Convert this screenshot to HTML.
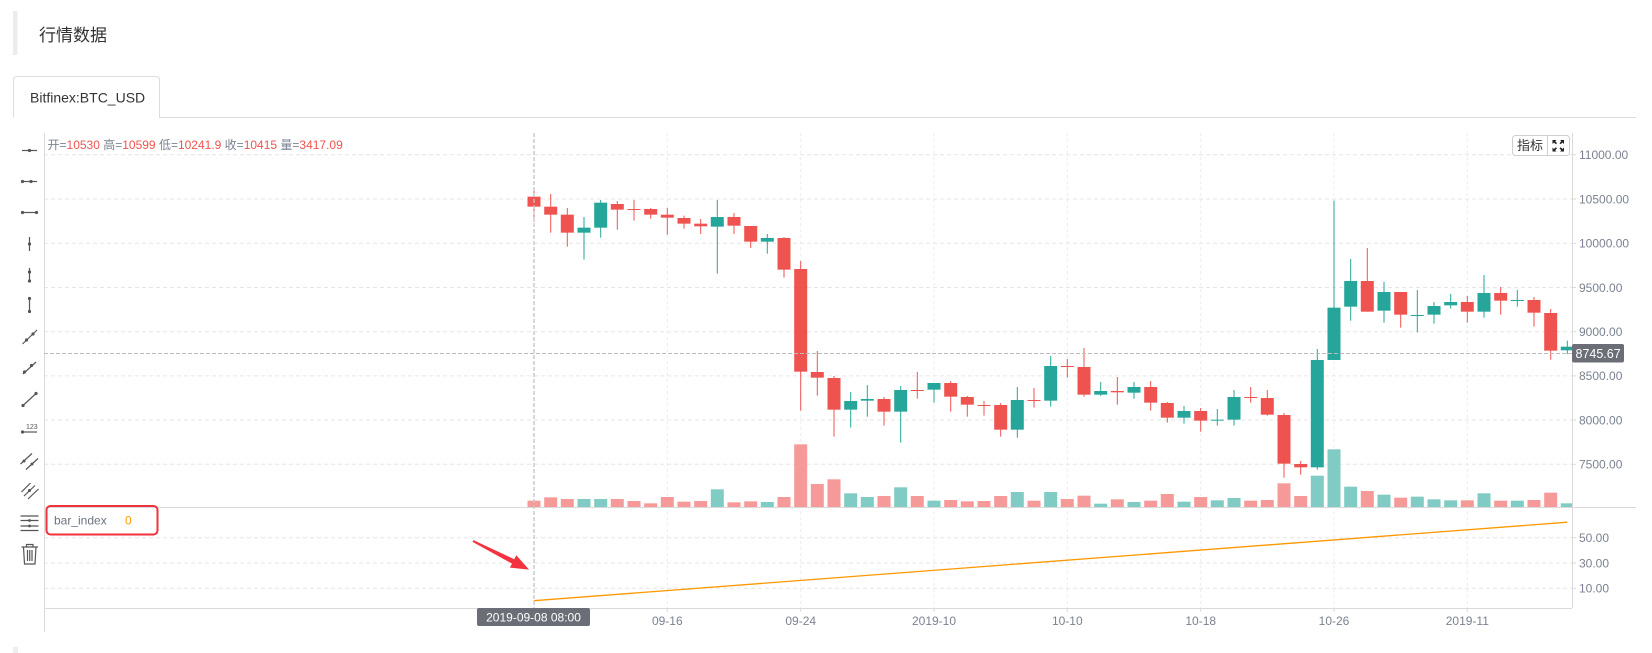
<!DOCTYPE html>
<html><head><meta charset="utf-8"><style>
html,body{margin:0;padding:0;background:#fff;}
svg{display:block;font-family:"Liberation Sans","Noto Sans CJK SC",sans-serif;}
</style></head><body>
<svg width="1652" height="653" viewBox="0 0 1652 653" xmlns="http://www.w3.org/2000/svg">
<defs><clipPath id="plot" clipPathUnits="userSpaceOnUse"><rect x="44" y="133" width="1528" height="476"/></clipPath></defs>
<rect x="13" y="11" width="4.5" height="44" fill="#ececec"/>
<text x="39" y="41" font-size="17" fill="#333" font-family="Liberation Sans,Noto Sans CJK SC,sans-serif">行情数据</text>
<path d="M13.5 117.5 V80 Q13.5 76.5 17 76.5 H156 Q159.5 76.5 159.5 80 V117.5 H1636" fill="#fff" stroke="#ddd" stroke-width="1"/>
<text x="30" y="102.5" font-size="14" fill="#333">Bitfinex:BTC_USD</text>
<rect x="13" y="647" width="5" height="6" fill="#eee"/>

<!-- grid -->
<g stroke="#e6e6e6" stroke-width="1" stroke-dasharray="4 3">
<line x1="44" y1="154.8" x2="1572" y2="154.8"/><line x1="44" y1="199" x2="1572" y2="199"/><line x1="44" y1="243.3" x2="1572" y2="243.3"/><line x1="44" y1="287.5" x2="1572" y2="287.5"/><line x1="44" y1="331.7" x2="1572" y2="331.7"/><line x1="44" y1="375.9" x2="1572" y2="375.9"/><line x1="44" y1="420" x2="1572" y2="420"/><line x1="44" y1="464.3" x2="1572" y2="464.3"/>
<line x1="44" y1="537.7" x2="1572" y2="537.7"/><line x1="44" y1="563" x2="1572" y2="563"/><line x1="44" y1="588.3" x2="1572" y2="588.3"/>
</g>
<g stroke="#ececec" stroke-width="1" stroke-dasharray="3 3">
<line x1="667.3" y1="133" x2="667.3" y2="608"/><line x1="800.7" y1="133" x2="800.7" y2="608"/><line x1="934" y1="133" x2="934" y2="608"/><line x1="1067.3" y1="133" x2="1067.3" y2="608"/><line x1="1200.7" y1="133" x2="1200.7" y2="608"/><line x1="1334" y1="133" x2="1334" y2="608"/><line x1="1467.3" y1="133" x2="1467.3" y2="608"/>
</g>

<!-- axes -->
<g stroke="#dadada" stroke-width="1">
<line x1="44.5" y1="133" x2="44.5" y2="632"/>
<line x1="1572.5" y1="133" x2="1572.5" y2="608"/>
<line x1="44" y1="507.5" x2="1636" y2="507.5"/>
<line x1="44" y1="608.5" x2="1572" y2="608.5"/>
<line x1="1572" y1="154.8" x2="1576" y2="154.8"/><line x1="1572" y1="199" x2="1576" y2="199"/><line x1="1572" y1="243.3" x2="1576" y2="243.3"/><line x1="1572" y1="287.5" x2="1576" y2="287.5"/><line x1="1572" y1="331.7" x2="1576" y2="331.7"/><line x1="1572" y1="375.9" x2="1576" y2="375.9"/><line x1="1572" y1="420" x2="1576" y2="420"/><line x1="1572" y1="464.3" x2="1576" y2="464.3"/>
<line x1="1572" y1="537.7" x2="1576" y2="537.7"/><line x1="1572" y1="563" x2="1576" y2="563"/><line x1="1572" y1="588.3" x2="1576" y2="588.3"/>
<line x1="667.3" y1="608" x2="667.3" y2="612"/><line x1="800.7" y1="608" x2="800.7" y2="612"/><line x1="934" y1="608" x2="934" y2="612"/><line x1="1067.3" y1="608" x2="1067.3" y2="612"/><line x1="1200.7" y1="608" x2="1200.7" y2="612"/><line x1="1334" y1="608" x2="1334" y2="612"/><line x1="1467.3" y1="608" x2="1467.3" y2="612"/>
</g>

<g clip-path="url(#plot)">
<g transform="translate(0,180) scale(1,0.3333333)">
<!-- volume red -->
<g fill="#f59a98">
<rect x="527.5" y="962" width="13" height="19"/><rect x="544.2" y="952" width="13" height="29"/><rect x="560.8" y="957" width="13" height="24"/><rect x="610.8" y="957" width="13" height="24"/><rect x="627.5" y="963" width="13" height="18"/><rect x="644.2" y="970" width="13" height="11"/><rect x="660.8" y="951" width="13" height="30"/><rect x="677.5" y="965" width="13" height="16"/><rect x="694.2" y="963" width="13" height="18"/><rect x="727.5" y="967" width="13" height="14"/><rect x="744.2" y="964" width="13" height="17"/><rect x="777.5" y="951" width="13" height="30"/>
<rect x="794.2" y="793" width="13" height="188"/><rect x="810.8" y="912" width="13" height="69"/><rect x="827.5" y="898" width="13" height="83"/><rect x="877.5" y="948" width="13" height="33"/><rect x="910.8" y="948" width="13" height="33"/><rect x="944.2" y="960" width="13" height="21"/><rect x="960.8" y="964" width="13" height="17"/><rect x="977.5" y="963" width="13" height="18"/><rect x="994.2" y="948" width="13" height="33"/><rect x="1027.5" y="962" width="13" height="19"/>
<rect x="1060.8" y="957" width="13" height="24"/><rect x="1077.5" y="947" width="13" height="34"/><rect x="1110.8" y="958" width="13" height="23"/><rect x="1144.2" y="962" width="13" height="19"/><rect x="1160.8" y="942" width="13" height="39"/><rect x="1194.2" y="951" width="13" height="30"/><rect x="1244.2" y="962" width="13" height="19"/><rect x="1260.8" y="960" width="13" height="21"/><rect x="1277.5" y="910" width="13" height="71"/><rect x="1294.2" y="948" width="13" height="33"/>
<rect x="1360.8" y="933" width="13" height="48"/><rect x="1394.2" y="953" width="13" height="28"/><rect x="1460.8" y="961" width="13" height="20"/><rect x="1494.2" y="962" width="13" height="19"/><rect x="1527.5" y="960" width="13" height="21"/><rect x="1544.2" y="938" width="13" height="43"/>
</g>
<!-- volume green -->
<g fill="#80cbc3">
<rect x="577.5" y="957" width="13" height="24"/><rect x="594.2" y="957" width="13" height="24"/><rect x="710.8" y="928" width="13" height="53"/><rect x="760.8" y="966" width="13" height="15"/><rect x="844.2" y="940" width="13" height="41"/><rect x="860.8" y="951" width="13" height="30"/><rect x="894.2" y="922" width="13" height="59"/><rect x="927.5" y="962" width="13" height="19"/><rect x="1010.8" y="936" width="13" height="45"/><rect x="1044.2" y="936" width="13" height="45"/>
<rect x="1094.2" y="971" width="13" height="10"/><rect x="1127.5" y="966" width="13" height="15"/><rect x="1177.5" y="965" width="13" height="16"/><rect x="1210.8" y="961" width="13" height="20"/><rect x="1227.5" y="954" width="13" height="27"/><rect x="1310.8" y="887" width="13" height="94"/><rect x="1327.5" y="808" width="13" height="173"/><rect x="1344.2" y="920" width="13" height="61"/><rect x="1377.5" y="944" width="13" height="37"/><rect x="1410.8" y="950" width="13" height="31"/><rect x="1427.5" y="958" width="13" height="23"/><rect x="1444.2" y="961" width="13" height="20"/><rect x="1477.5" y="940" width="13" height="41"/><rect x="1510.8" y="962" width="13" height="19"/><rect x="1560.8" y="970" width="13" height="11"/>
</g>
<!-- red candles -->
<g fill="#ef5350" stroke="#ef5350" stroke-width="1">
<line x1="534" y1="33" x2="534" y2="125"/><line x1="550.7" y1="42" x2="550.7" y2="158"/><line x1="567.3" y1="84" x2="567.3" y2="200"/><line x1="617.3" y1="63" x2="617.3" y2="149"/><line x1="634" y1="60" x2="634" y2="122"/><line x1="650.7" y1="84" x2="650.7" y2="116"/><line x1="667.3" y1="84" x2="667.3" y2="164"/><line x1="684" y1="107" x2="684" y2="146"/><line x1="700.7" y1="117" x2="700.7" y2="162"/><line x1="734" y1="99" x2="734" y2="162"/><line x1="750.7" y1="138" x2="750.7" y2="204"/><line x1="784" y1="171" x2="784" y2="293"/>
<line x1="800.7" y1="243" x2="800.7" y2="692"/><line x1="817.3" y1="513" x2="817.3" y2="647"/><line x1="834" y1="588" x2="834" y2="770"/><line x1="884" y1="651" x2="884" y2="737"/><line x1="917.3" y1="576" x2="917.3" y2="656"/><line x1="950.7" y1="603" x2="950.7" y2="695"/><line x1="967.3" y1="648" x2="967.3" y2="710"/><line x1="984" y1="663" x2="984" y2="707"/><line x1="1000.7" y1="669" x2="1000.7" y2="770"/><line x1="1034" y1="624" x2="1034" y2="683"/>
<line x1="1067.3" y1="537" x2="1067.3" y2="593"/><line x1="1084" y1="504" x2="1084" y2="650"/><line x1="1117.3" y1="591" x2="1117.3" y2="674"/><line x1="1150.7" y1="603" x2="1150.7" y2="692"/><line x1="1167.3" y1="666" x2="1167.3" y2="728"/><line x1="1200.7" y1="684" x2="1200.7" y2="755"/><line x1="1250.7" y1="621" x2="1250.7" y2="668"/><line x1="1267.3" y1="630" x2="1267.3" y2="707"/><line x1="1284" y1="699" x2="1284" y2="893"/><line x1="1300.7" y1="843" x2="1300.7" y2="884"/>
<line x1="1367.3" y1="204" x2="1367.3" y2="395"/><line x1="1400.7" y1="336" x2="1400.7" y2="443"/><line x1="1467.3" y1="348" x2="1467.3" y2="428"/><line x1="1500.7" y1="321" x2="1500.7" y2="404"/><line x1="1534" y1="351" x2="1534" y2="440"/><line x1="1550.7" y1="387" x2="1550.7" y2="539"/>
</g>
<g fill="#ef5350">
<rect x="527.5" y="50" width="13" height="30"/><rect x="544.2" y="80" width="13" height="24"/><rect x="560.8" y="104" width="13" height="54"/><rect x="610.8" y="72" width="13" height="17"/><rect x="627.5" y="87" width="13" height="3"/><rect x="644.2" y="87" width="13" height="17"/><rect x="660.8" y="104" width="13" height="9"/><rect x="677.5" y="114" width="13" height="17"/><rect x="694.2" y="131" width="13" height="8"/><rect x="727.5" y="111" width="13" height="26"/><rect x="744.2" y="138" width="13" height="47"/><rect x="777.5" y="174" width="13" height="95"/>
<rect x="794.2" y="267" width="13" height="308"/><rect x="810.8" y="576" width="13" height="17"/><rect x="827.5" y="594" width="13" height="95"/><rect x="877.5" y="657" width="13" height="38"/><rect x="910.8" y="630" width="13" height="3"/><rect x="944.2" y="609" width="13" height="41"/><rect x="960.8" y="651" width="13" height="23"/><rect x="977.5" y="675" width="13" height="3"/><rect x="994.2" y="675" width="13" height="74"/><rect x="1027.5" y="660" width="13" height="3"/>
<rect x="1060.8" y="558" width="13" height="3"/><rect x="1077.5" y="561" width="13" height="83"/><rect x="1110.8" y="633" width="13" height="4"/><rect x="1144.2" y="621" width="13" height="47"/><rect x="1160.8" y="669" width="13" height="44"/><rect x="1194.2" y="693" width="13" height="29"/><rect x="1244.2" y="651" width="13" height="3"/><rect x="1260.8" y="654" width="13" height="50"/><rect x="1277.5" y="705" width="13" height="146"/><rect x="1294.2" y="852" width="13" height="10"/>
<rect x="1360.8" y="303" width="13" height="92"/><rect x="1394.2" y="336" width="13" height="68"/><rect x="1460.8" y="366" width="13" height="29"/><rect x="1494.2" y="339" width="13" height="23"/><rect x="1527.5" y="360" width="13" height="38"/><rect x="1544.2" y="399" width="13" height="113"/>
</g>
<!-- green candles -->
<g stroke="#26a69a" stroke-width="1">
<line x1="584" y1="111" x2="584" y2="239"/><line x1="600.7" y1="60" x2="600.7" y2="173"/><line x1="717.3" y1="60" x2="717.3" y2="281"/><line x1="767.3" y1="162" x2="767.3" y2="221"/><line x1="850.7" y1="636" x2="850.7" y2="743"/><line x1="867.3" y1="615" x2="867.3" y2="710"/><line x1="900.7" y1="618" x2="900.7" y2="788"/><line x1="934" y1="609" x2="934" y2="668"/><line x1="1017.3" y1="621" x2="1017.3" y2="773"/><line x1="1050.7" y1="528" x2="1050.7" y2="680"/>
<line x1="1100.7" y1="606" x2="1100.7" y2="648"/><line x1="1134" y1="606" x2="1134" y2="656"/><line x1="1184" y1="678" x2="1184" y2="731"/><line x1="1217.3" y1="687" x2="1217.3" y2="737"/><line x1="1234" y1="630" x2="1234" y2="737"/><line x1="1317.3" y1="507" x2="1317.3" y2="869"/><line x1="1334" y1="62" x2="1334" y2="540"/><line x1="1350.7" y1="237" x2="1350.7" y2="422"/><line x1="1384" y1="306" x2="1384" y2="428"/><line x1="1417.3" y1="330" x2="1417.3" y2="457"/><line x1="1434" y1="366" x2="1434" y2="431"/><line x1="1450.7" y1="342" x2="1450.7" y2="386"/><line x1="1484" y1="285" x2="1484" y2="413"/><line x1="1517.3" y1="330" x2="1517.3" y2="380"/><line x1="1567.3" y1="482" x2="1567.3" y2="522"/>
</g>
<g fill="#26a69a">
<rect x="577.5" y="143" width="13" height="15"/><rect x="594.2" y="68" width="13" height="75"/><rect x="710.8" y="111" width="13" height="29"/><rect x="760.8" y="174" width="13" height="11"/><rect x="844.2" y="663" width="13" height="26"/><rect x="860.8" y="657" width="13" height="5"/><rect x="894.2" y="630" width="13" height="65"/><rect x="927.5" y="609" width="13" height="20"/><rect x="1010.8" y="660" width="13" height="89"/><rect x="1044.2" y="558" width="13" height="104"/>
<rect x="1094.2" y="633" width="13" height="11"/><rect x="1127.5" y="621" width="13" height="17"/><rect x="1177.5" y="693" width="13" height="20"/><rect x="1210.8" y="719" width="13" height="3"/><rect x="1227.5" y="651" width="13" height="68"/><rect x="1310.8" y="540" width="13" height="322"/><rect x="1327.5" y="383" width="13" height="157"/><rect x="1344.2" y="303" width="13" height="77"/><rect x="1377.5" y="336" width="13" height="56"/><rect x="1410.8" y="405" width="13" height="3"/><rect x="1427.5" y="378" width="13" height="26"/><rect x="1444.2" y="366" width="13" height="10"/><rect x="1477.5" y="339" width="13" height="56"/><rect x="1510.8" y="360" width="13" height="3"/><rect x="1560.8" y="500" width="13" height="11"/>
</g>
</g>
<!-- bar_index line -->
<polyline points="534,600.7 1567.3,522.2" fill="none" stroke="#ff9800" stroke-width="1.3"/>
<!-- price line & crosshair -->
<line x1="44" y1="353.5" x2="1572" y2="353.5" stroke="#bdbdbd" stroke-width="1" stroke-dasharray="4 2"/>
<line x1="534" y1="133" x2="534" y2="608" stroke="#c4c4c4" stroke-width="1.3" stroke-dasharray="4 2"/>
</g>

<!-- y labels -->
<g font-size="12" fill="#7a8291">
<text x="1579" y="159">11000.00</text><text x="1579" y="203.3">10500.00</text><text x="1579" y="247.6">10000.00</text><text x="1579" y="291.8">9500.00</text><text x="1579" y="336">9000.00</text><text x="1579" y="380.2">8500.00</text><text x="1579" y="424.3">8000.00</text><text x="1579" y="468.6">7500.00</text>
<text x="1579" y="542">50.00</text><text x="1579" y="567.3">30.00</text><text x="1579" y="592.6">10.00</text>
</g>
<rect x="1572" y="344" width="52" height="18.5" rx="2" fill="#6b6e76"/>
<text x="1575.5" y="357.8" font-size="12.5" fill="#fff">8745.67</text>

<!-- x labels -->
<g font-size="12" fill="#7a8291" text-anchor="middle">
<text x="667.3" y="625">09-16</text><text x="800.7" y="625">09-24</text><text x="934" y="625">2019-10</text><text x="1067.3" y="625">10-10</text><text x="1200.7" y="625">10-18</text><text x="1334" y="625">10-26</text><text x="1467.3" y="625">2019-11</text>
</g>
<rect x="477" y="608" width="113" height="18" rx="2" fill="#6b6e76"/>
<text x="533.5" y="621.5" font-size="12" fill="#fff" text-anchor="middle">2019-09-08 08:00</text>

<!-- legend -->
<text x="47.5" y="149" font-size="12" fill="#7a8291" font-family="Liberation Sans,Noto Sans CJK SC,sans-serif"><tspan>开=</tspan><tspan fill="#ef5350">10530</tspan><tspan> 高=</tspan><tspan fill="#ef5350">10599</tspan><tspan> 低=</tspan><tspan fill="#ef5350">10241.9</tspan><tspan> 收=</tspan><tspan fill="#ef5350">10415</tspan><tspan> 量=</tspan><tspan fill="#ef5350">3417.09</tspan></text>

<!-- indicator buttons -->
<rect x="1512.5" y="135.5" width="57" height="20" rx="3" fill="#fff" stroke="#cfcfcf"/>
<line x1="1547.5" y1="135.5" x2="1547.5" y2="155.5" stroke="#cfcfcf"/>
<text x="1517" y="150" font-size="13" fill="#333" font-family="Liberation Sans,Noto Sans CJK SC,sans-serif">指标</text>
<g fill="#222">
<path d="M1552.5 140 h4 l-1.3 1.3 1.8 1.8 -1.2 1.2 -1.8 -1.8 -1.5 1.5z"/>
<path d="M1564 140 h-4 l1.3 1.3 -1.8 1.8 1.2 1.2 1.8 -1.8 1.5 1.5z"/>
<path d="M1552.5 151.5 h4 l-1.3 -1.3 1.8 -1.8 -1.2 -1.2 -1.8 1.8 -1.5 -1.5z"/>
<path d="M1564 151.5 h-4 l1.3 -1.3 -1.8 -1.8 1.2 -1.2 1.8 1.8 1.5 -1.5z"/>
</g>

<!-- bar_index legend -->
<rect x="46.5" y="506" width="111" height="28.5" rx="4" fill="none" stroke="#f0323c" stroke-width="2"/>
<text x="54" y="524.5" font-size="12" fill="#6b7280">bar_index</text>
<text x="125" y="524.5" font-size="12" fill="#ff9800">0</text>

<!-- arrow -->
<polygon points="473.45,540.1 514.2,559.2 516.3,555.2 529.1,569.6 509.9,567.6 512,563.6 472.55,541.9" fill="#f5333f"/>

<!-- toolbar icons -->
<g stroke="#555" stroke-width="1.2" fill="none">
<line x1="22" y1="150.5" x2="37" y2="150.5"/>
<line x1="22" y1="181.5" x2="37" y2="181.5"/>
<line x1="22" y1="212.5" x2="37" y2="212.5"/>
<line x1="29.5" y1="237" x2="29.5" y2="251"/>
<line x1="29.5" y1="268" x2="29.5" y2="282"/>
<line x1="29.5" y1="298.5" x2="29.5" y2="311.5"/>
<line x1="22.5" y1="344" x2="37" y2="330"/>
<line x1="23" y1="374" x2="36" y2="362"/>
<line x1="23" y1="405.5" x2="36" y2="393.5"/>
<line x1="22" y1="432" x2="37" y2="432"/>
<line x1="20.5" y1="464" x2="32" y2="453.5"/><line x1="26" y1="469.5" x2="38" y2="458.5"/>
<line x1="21.5" y1="492" x2="30.5" y2="483"/><line x1="24" y1="496" x2="35" y2="485.5"/><line x1="28" y1="499" x2="38.5" y2="489"/>
<line x1="20.5" y1="516" x2="38.5" y2="516"/><line x1="20.5" y1="520.5" x2="38.5" y2="520.5"/><line x1="20.5" y1="526" x2="38.5" y2="526"/><line x1="20.5" y1="530.5" x2="38.5" y2="530.5"/>
<line x1="21.5" y1="547" x2="38" y2="547"/><path d="M26.5 547 V544.5 H33 V547"/><path d="M23.5 547 L24.5 564 H35 L36 547"/>
<line x1="27.5" y1="550" x2="27.5" y2="561"/><line x1="29.75" y1="550" x2="29.75" y2="561"/><line x1="32" y1="550" x2="32" y2="561"/>
</g>
<g fill="#555">
<circle cx="29.5" cy="150.5" r="1.6"/>
<circle cx="22.5" cy="181.5" r="1.6"/><circle cx="31" cy="181.5" r="1.6"/>
<circle cx="22.5" cy="212.5" r="1.6"/><circle cx="36.5" cy="212.5" r="1.6"/>
<circle cx="29.5" cy="244" r="1.6"/>
<circle cx="29.5" cy="272" r="1.6"/><circle cx="29.5" cy="281" r="1.6"/>
<circle cx="29.5" cy="298.5" r="1.6"/><circle cx="29.5" cy="311.5" r="1.6"/>
<circle cx="26.5" cy="340" r="1.6"/><circle cx="33" cy="334" r="1.6"/>
<circle cx="24.5" cy="372" r="1.6"/><circle cx="31.5" cy="365.5" r="1.6"/>
<circle cx="23" cy="405.5" r="1.6"/><circle cx="36" cy="393.5" r="1.6"/>
<circle cx="22.5" cy="432" r="1.6"/>
<circle cx="24" cy="461" r="1.5"/><circle cx="32" cy="464" r="1.5"/>
<circle cx="29.5" cy="490.5" r="1.5"/>
<circle cx="29.5" cy="520.5" r="1.4"/><circle cx="29.5" cy="526" r="1.4"/>
<text x="26" y="429" font-size="7" fill="#555" stroke="none">123</text>
</g>
</svg>
</body></html>
